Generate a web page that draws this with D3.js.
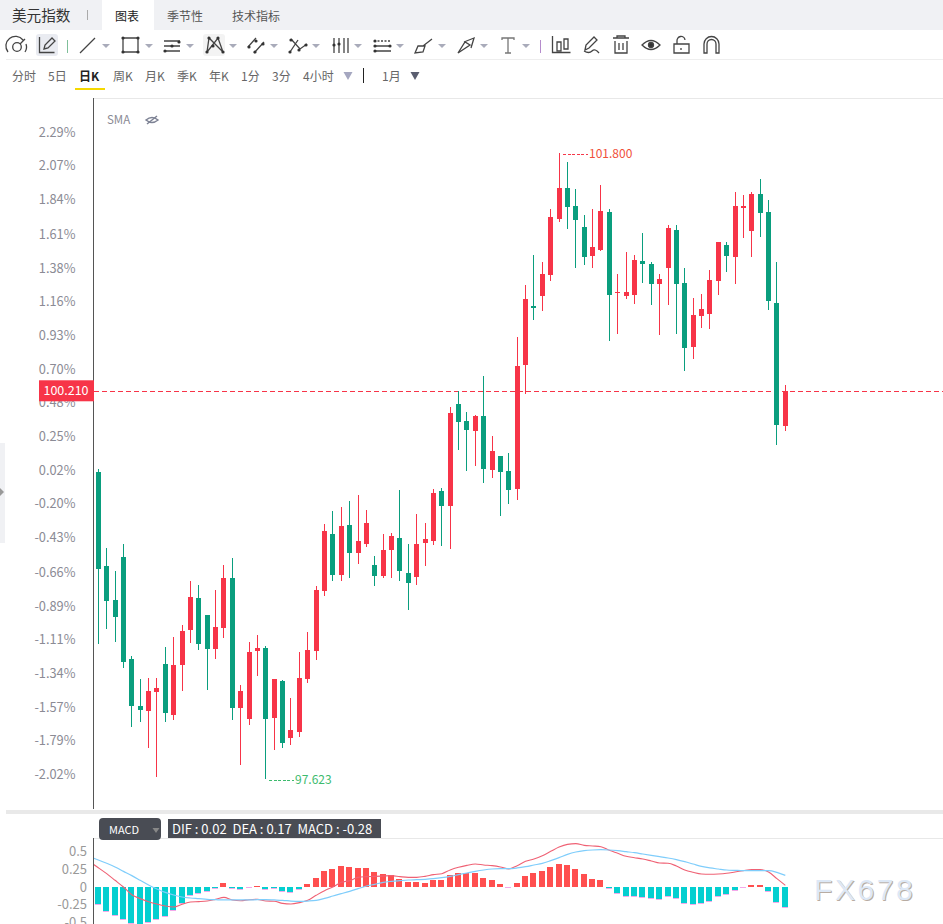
<!DOCTYPE html>
<html><head><meta charset="utf-8">
<script src="https://cdn.jsdelivr.net/npm/d3@7/dist/d3.min.js"></script>
<style>
html,body{margin:0;padding:0;background:#fff;overflow:hidden}
svg{display:block}
text{font-family:"Noto Sans CJK SC","Noto Sans",sans-serif}
</style></head><body><svg id="c" width="943" height="924"></svg>
<script>
const opens=[99.672,99.044,98.817,99.104,98.424,98.110,98.077,98.204,98.390,98.050,98.384,98.617,98.831,98.717,98.490,98.631,98.964,98.097,98.023,98.477,98.497,98.030,98.277,97.897,97.937,98.290,98.477,98.878,99.258,98.985,99.318,99.131,99.191,99.051,98.978,99.151,99.231,98.998,98.971,99.198,99.211,99.545,99.445,100.125,100.012,99.945,100.045,99.685,99.779,99.678,99.558,100.386,100.779,100.846,100.986,101.360,101.566,101.446,101.306,101.113,101.153,101.406,100.866,100.846,100.853,101.079,101.059,100.926,101.033,101.286,100.933,100.506,100.712,100.726,100.946,101.186,101.106,101.433,101.280,101.526,101.406,100.799,99.979];
const closes=[99.026,98.811,98.704,98.404,98.110,98.083,98.210,98.230,98.063,98.384,98.611,98.837,98.524,98.490,98.637,98.964,98.097,98.210,98.470,98.497,98.023,98.290,97.863,97.950,98.297,98.484,98.884,99.278,98.985,99.312,99.131,99.211,99.332,98.978,99.151,99.245,99.011,98.931,99.191,99.225,99.532,99.445,100.065,100.005,99.952,100.045,99.692,99.812,99.672,99.552,100.379,100.826,100.766,100.993,101.373,101.566,101.440,101.353,101.106,101.173,101.413,100.853,100.873,100.873,101.086,101.059,100.926,100.959,101.300,100.926,100.499,100.719,100.759,100.953,101.206,101.113,101.446,101.446,101.526,101.400,100.813,99.985,100.212];
const highs=[99.692,99.164,99.011,99.191,98.444,98.290,98.297,98.297,98.504,98.571,98.651,98.944,98.918,98.717,98.884,99.051,99.098,98.250,98.537,98.584,98.511,98.290,98.284,98.164,98.470,98.604,98.911,99.325,99.412,99.438,99.478,99.518,99.418,99.111,99.258,99.265,99.552,99.191,99.392,99.332,99.558,99.565,100.105,100.212,100.072,100.052,100.312,99.912,99.779,99.799,100.572,100.919,101.119,101.073,101.426,101.800,101.740,101.560,101.386,101.426,101.586,101.426,100.993,101.139,101.119,101.266,101.073,100.993,101.320,101.320,101.033,100.833,100.859,101.019,101.206,101.206,101.540,101.520,101.540,101.627,101.486,101.073,100.252];
const lows=[98.524,98.624,98.537,98.364,97.970,98.003,97.830,97.636,98.003,98.017,98.210,98.531,98.484,98.217,98.424,98.564,98.017,97.716,97.983,98.310,97.623,97.817,97.830,97.850,97.903,98.264,98.417,98.844,98.945,98.945,98.965,99.058,99.171,98.911,98.965,98.965,98.945,98.751,98.918,99.045,99.185,99.178,99.158,99.819,99.678,99.712,99.598,99.632,99.378,99.458,99.485,100.192,100.686,100.746,100.946,101.340,101.293,101.033,101.053,101.033,101.146,100.546,100.592,100.826,100.793,100.933,100.786,100.586,100.786,100.592,100.346,100.426,100.632,100.626,100.853,101.006,100.926,101.233,101.106,101.240,100.753,99.852,99.945];
const pctTicks=[2.29,2.07,1.84,1.61,1.38,1.16,0.93,0.70,0.48,0.25,0.02,-0.20,-0.43,-0.66,-0.89,-1.11,-1.34,-1.57,-1.79,-2.02];
const lastPrice=100.210, basePrice=99.66;
const hist=[-.241,-.340,-.397,-.454,-.515,-.525,-.496,-.454,-.411,-.326,-.227,-.118,-.085,-.057,-.014,.057,-.009,-.028,-.005,.014,-.028,-.014,-.057,-.071,-.028,.043,.128,.227,.255,.298,.284,.270,.270,.213,.184,.170,.113,.071,.071,.057,.099,.099,.170,.199,.199,.199,.128,.099,.043,-.005,.057,.156,.199,.227,.284,.326,.312,.255,.184,.113,.099,-.009,-.085,-.128,-.132,-.142,-.161,-.170,-.128,-.156,-.227,-.241,-.227,-.199,-.128,-.099,-.043,-.005,.028,.028,-.057,-.208,-.284];
// line series start one session before the first visible candle
const dea=[.426,.383,.336,.284,.222,.161,.095,.028,-.028,-.076,-.113,-.142,-.156,-.165,-.175,-.180,-.184,-.184,-.184,-.184,-.180,-.180,-.184,-.189,-.199,-.203,-.199,-.189,-.161,-.128,-.095,-.061,-.024,.014,.038,.066,.080,.090,.099,.104,.109,.118,.132,.151,.175,.199,.222,.241,.255,.260,.260,.270,.288,.312,.336,.374,.416,.463,.496,.515,.525,.530,.525,.515,.501,.487,.468,.449,.430,.411,.388,.359,.326,.293,.270,.255,.241,.236,.232,.232,.232,.232,.208,.165];
const dif=[.355,.274,.189,.095,0,-.109,-.165,-.208,-.241,-.270,-.284,-.246,-.213,-.208,-.199,-.175,-.147,-.184,-.194,-.180,-.175,-.199,-.203,-.232,-.241,-.222,-.189,-.118,-.052,0,.066,.090,.137,.147,.151,.156,.161,.147,.137,.137,.151,.175,.189,.241,.279,.307,.326,.312,.303,.284,.255,.303,.364,.397,.444,.506,.567,.605,.615,.591,.582,.572,.520,.478,.435,.416,.397,.369,.340,.336,.298,.241,.208,.184,.180,.184,.194,.213,.232,.246,.246,.213,.118,.024];
const macdTicks=[0.5,0.25,0,-0.25,-0.5];
const periods=["分时","5日","日K","周K","月K","季K","年K","1分","3分","4小时"];
const periodX=[12,48,79,113,145,177,209,241,272,303];
const tabs=["图表","季节性","技术指标"], tabX=[115,167,232];

const RED="#f73448",GREEN="#0a9e7e",TICK="#8b8b95";
const svg=d3.select("#c");
const idx=d3.range(opens.length);
const x=d3.scalePoint().domain(idx).range([98.3,785.3]);
const xl=d3.scaleLinear().domain([0,82]).range([98.3,785.3]);
const y=d3.scaleLinear().domain([97.623,101.8]).range([779,153]);
const yPct=p=>y(basePrice*(1+p/100));
const pctScale=d3.scaleLinear().domain([-2.02,2.29]).range([yPct(-2.02)-1,yPct(2.29)+1]);
const m=d3.scaleLinear().domain([-0.5,0.5]).range([922.25,851.75]);

// ---------- chrome
svg.append("rect").attr("width",943).attr("height",30).attr("fill","#f0f1f4");
svg.append("rect").attr("x",102).attr("width",52).attr("height",30).attr("fill","#fff");
svg.append("text").attr("x",12).attr("y",20.5).attr("font-size",14.6).attr("fill","#333").text("美元指数");
svg.append("rect").attr("x",87).attr("y",10).attr("width",1).attr("height",10).attr("fill","#aaa");
tabs.forEach((t,i)=>svg.append("text").attr("x",tabX[i]).attr("y",20.5).attr("font-size",12).attr("fill",i==0?"#222":"#555").text(t));
svg.append("rect").attr("x",6).attr("y",59).attr("width",937).attr("height",1).attr("fill","#eeeeee");
svg.append("rect").attr("x",93).attr("y",98).attr("width",850).attr("height",1).attr("fill","#e8e8e8");
periods.forEach((t,i)=>svg.append("text").attr("x",periodX[i]).attr("y",81).attr("font-size",12)
  .attr("font-weight",i==2?"700":"400").attr("fill",i==2?"#222":"#666").text(t));
svg.append("rect").attr("x",75).attr("y",88).attr("width",30).attr("height",2).attr("fill","#f5d800");
const tri=(cx,cy,w,h,c)=>svg.append("path").attr("d",`M${cx-w/2},${cy}h${w}l${-w/2},${h}z`).attr("fill",c);
tri(348,72,9,8,"#a5a7c0");
svg.append("rect").attr("x",363).attr("y",68).attr("width",1).attr("height",15).attr("fill","#222");
svg.append("text").attr("x",382).attr("y",81).attr("font-size",12).attr("fill","#666").text("1月");
tri(415,72,9,8,"#5a5e70");
svg.append("rect").attr("x",0).attr("y",443).attr("width",5).attr("height",100).attr("fill","#f0f1f4");
svg.append("path").attr("d","M0,488l4,4l-4,4z").attr("fill","#999");

// toolbar icons
const ic=svg.append("g").attr("fill","none").attr("stroke","#444").attr("stroke-width",1.3);
svg.insert("rect","g").attr("x",36).attr("y",34).attr("width",22).attr("height",22).attr("rx",3).attr("fill","#e9ebf1");
svg.insert("rect","g").attr("x",203).attr("y",34).attr("width",22).attr("height",22).attr("rx",3).attr("fill","#f3f3f3");
const P=(d,o={})=>{const e=ic.append("path").attr("d",d);Object.entries(o).forEach(([k,v])=>e.attr(k,v));return e};
const D=(a,b)=>ic.append("circle").attr("cx",a).attr("cy",b).attr("r",1.6).attr("fill","#333").attr("stroke","none");
ic.append("circle").attr("cx",17).attr("cy",47).attr("r",4.3);
P("M8,52a9,9 0 0 1 15,-12M26,44a9,9 0 0 1 -1,8M20,44l5,-5");
P("M39.5,37v15.5h15");P("M44,49l1,-4l7,-7l3,3l-7,7z");
[[67,"#7fbf9a"],[540,"#b58ccc"]].forEach(s=>svg.append("rect").attr("x",s[0]).attr("y",40).attr("width",1).attr("height",13).attr("fill",s[1]));
P("M80,53l15,-15");
P("M123,38h15v14h-15z");[[123,38],[138,38],[123,52],[138,52]].forEach(p=>D(...p));
P("M164,41h16M164,46h16M164,51h16");D(179,42);D(172,46);D(165,51);
P("M207,52l2,-14l14,14l-5,-14l-11,14");[[207,52],[209,38],[223,52],[218,38],[213,46]].forEach(p=>D(...p));
P("M248,47l8,-9M254,53l10,-11");D(249,47);D(256,41);D(255,52);D(263,44);
P("M291,39l9,10l7,-5M298,40l-8,12");D(291,40);D(299,50);D(306,45);D(290,52);
P("M334,38v15M339,38v15M344,38v15M348,38v15");D(334,45);D(339,44);
P("M374,46h17M374,51h17");P("M374,41h17",{"stroke-dasharray":"2 1.5"});D(375,41);D(375,46);D(375,51);D(390,46);
P("M415,53l3,-7h7l-2,6zM423,46l9,-7");
P("M458,53l7,-11l5,3zM464,42l10,-4l-3,10");
ic.append("g").call(g=>{g.append("path").attr("stroke","#777").attr("d","M502,40v-2h12v2M508,38v15M505,53h6")});
P("M552.5,36v16.5h18");P("M557,42h4v9h-4zM564,39h4v10h-4z");
P("M585,50l1,-5l8,-8l3,3l-8,8zM584,51q5,3 8,0t7,2");
P("M613,38h16M617,38v-2h8v2M615,41v12h12v-12M619,43v7M623,43v7");
P("M642,45q9,-9 18,0q-9,9 -18,0z");ic.append("circle").attr("cx",651).attr("cy",45).attr("r",2.5).attr("fill","#333");
P("M674,44h15v9h-15zM677,44v-3a4,4 0 0 1 8,-1M681,48v2");
P("M704,53v-9a7.5,7.5 0 0 1 15,0v9h-3v-9a4.5,4.5 0 0 0 -9,0v9z");
[[106,44],[149,44],[190,44],[233,44],[274,44],[316,44],[358,44],[400,44],[442,44],[484,44],[526,44]].forEach(p=>tri(p[0],p[1],8,4,"#a9abba"));

// ---------- price pane
svg.append("rect").attr("x",93).attr("y",98).attr("width",1).attr("height",711).attr("fill","#555");
svg.append("text").attr("x",107).attr("y",124).attr("font-size",11.5).attr("fill","#8b8b95").text("SMA");
const eye=svg.append("g").attr("fill","none").attr("stroke","#7d8294").attr("stroke-width",1.5);
eye.append("path").attr("d","M146,120q6,-5 12,0q-6,5 -12,0z");eye.append("path").attr("d","M147,124l10,-8");

const yAxis=d3.axisLeft(pctScale).tickValues(pctTicks).tickFormat(d=>d.toFixed(2)+"%").tickSize(0).tickPadding(0);
svg.append("g").attr("transform","translate(75.5,0)").call(yAxis).call(g=>g.select(".domain").remove())
  .selectAll("text").attr("font-size",12.8).attr("fill",TICK).style("font-family",'"Noto Sans CJK SC","Noto Sans",sans-serif');

svg.append("line").attr("x1",94).attr("x2",943).attr("y1",y(lastPrice)).attr("y2",y(lastPrice))
  .attr("stroke",RED).attr("stroke-width",1).attr("stroke-dasharray","5 3").attr("shape-rendering","crispEdges");

const color=i=>closes[i]>=opens[i]?RED:GREEN;
const cg=svg.append("g").attr("shape-rendering","crispEdges");
cg.selectAll("rect.w").data(idx).join("rect").attr("class","w")
  .attr("x",i=>Math.floor(x(i))).attr("width",1)
  .attr("y",i=>Math.round(y(highs[i]))).attr("height",i=>Math.round(y(lows[i]))-Math.round(y(highs[i])))
  .attr("fill",color);
cg.selectAll("rect.b").data(idx).join("rect").attr("class","b")
  .attr("x",i=>Math.floor(x(i))-2).attr("width",5)
  .attr("y",i=>Math.round(y(Math.max(opens[i],closes[i]))))
  .attr("height",i=>Math.max(1,Math.round(y(Math.min(opens[i],closes[i])))-Math.round(y(Math.max(opens[i],closes[i])))))
  .attr("fill",color);

svg.append("rect").attr("x",39).attr("y",y(lastPrice)-11).attr("width",55).attr("height",21).attr("fill",RED);
svg.append("text").attr("x",66).attr("y",y(lastPrice)+4).attr("text-anchor","middle").attr("font-size",12.5).attr("fill","#fff").text(lastPrice.toFixed(3));

const hi=d3.maxIndex(highs),lo=d3.minIndex(lows);
const extreme=(i,v,c,tc)=>{
  const X=Math.floor(x(i))+4;
  svg.append("line").attr("x1",X).attr("x2",X+25).attr("y1",y(v)+1).attr("y2",y(v)+1).attr("stroke",c).attr("stroke-dasharray","3 1.6").attr("stroke-width",1).attr("shape-rendering","crispEdges");
  svg.append("text").attr("x",X+26).attr("y",y(v)+5).attr("font-size",12).attr("fill",tc).text(v.toFixed(3));
};
extreme(hi,highs[hi],"#f5384a","#f0503a");
extreme(lo,lows[lo],"#3dbb6e","#3dbb6e");

// ---------- MACD pane
svg.append("rect").attr("x",6).attr("y",810).attr("width",937).attr("height",4).attr("fill","#e9e9e9");
svg.append("rect").attr("x",93).attr("y",838).attr("width",850).attr("height",1).attr("fill","#e8e8e8");
svg.append("rect").attr("x",93).attr("y",838).attr("width",1).attr("height",86).attr("fill","#555");
svg.append("rect").attr("x",99).attr("y",818).attr("width",62).attr("height",22).attr("rx",4).attr("fill","#494c54");
svg.append("text").attr("x",109).attr("y",834).attr("font-size",11).attr("fill","#fff").text("MACD");
tri(156,828,7,5,"#888");
svg.append("rect").attr("x",168).attr("y",819).attr("width",213).attr("height",19).attr("fill","#494c54");
svg.append("text").attr("x",172).attr("y",834).attr("font-size",13).attr("fill","#fff").attr("xml:space","preserve").style("white-space","pre")
  .text(`DIF : ${dif[83].toFixed(2)}  DEA : ${dea[83].toFixed(2)}  MACD : ${hist[82].toFixed(2)}`);

const mAxis=d3.axisLeft(m).tickValues(macdTicks).tickFormat(d=>String(d)).tickSize(0).tickPadding(0);
svg.append("g").attr("transform","translate(87,0)").call(mAxis).call(g=>g.select(".domain").remove())
  .selectAll("text").attr("font-size",13).attr("fill","#999").style("font-family",'"Noto Sans CJK SC","Noto Sans",sans-serif');

const bars=svg.append("g").attr("shape-rendering","crispEdges");
const mid=m(0);
bars.selectAll("rect.s").data(idx.filter(i=>hist[i]<0)).join("rect").attr("class","s")
  .attr("x",i=>Math.floor(x(i))-3).attr("width",6)
  .attr("y",i=>m(hist[i])).attr("height",1).attr("fill","#f3a9ea");
bars.selectAll("rect.h").data(idx.filter(i=>Math.abs(hist[i])>0.006)).join("rect").attr("class","h")
  .attr("x",i=>Math.floor(x(i))-3).attr("width",6)
  .attr("y",i=>hist[i]>0?Math.round(m(hist[i])):mid)
  .attr("height",i=>Math.max(1,Math.abs(Math.round(m(hist[i])-mid))))
  .attr("fill",i=>hist[i]>0?"#ff4f4f":"#04cfd0");

const clip=svg.append("clipPath").attr("id","mc");
clip.append("rect").attr("x",94).attr("y",838).attr("width",849).attr("height",86);
const lineFor=d3.line().x((d,i)=>xl(i-1)).y(d=>m(d)).curve(d3.curveMonotoneX);
const lg=svg.append("g").attr("clip-path","url(#mc)").attr("fill","none");
lg.append("path").attr("d",lineFor(dif)).attr("stroke","#ef6174").attr("stroke-width",1.1);
lg.append("path").attr("d",lineFor(dea)).attr("stroke","#7fcdfb").attr("stroke-width",1.2);

// watermark
[["#b8aca2",1,1],["#dde8f6",0,0]].forEach(([c,dx,dy])=>
 svg.append("text").attr("x",814+dx).attr("y",900+dy).attr("font-size",30).attr("letter-spacing",2.6)
  .style("font-family",'"Liberation Sans",sans-serif').attr("fill",c).text("FX678"));
</script></body></html>
